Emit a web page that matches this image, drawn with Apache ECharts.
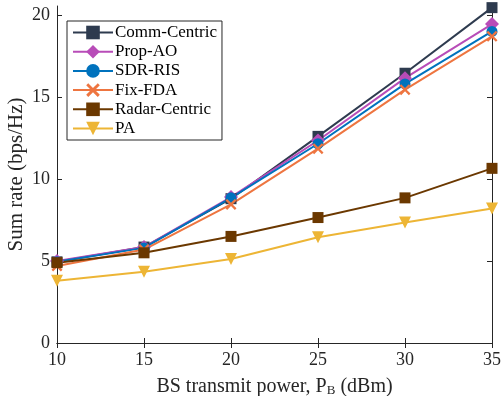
<!DOCTYPE html>
<html>
<head>
<meta charset="utf-8">
<script src="https://cdn.jsdelivr.net/npm/echarts@6/dist/echarts.min.js"></script>
<style>
  html, body { margin: 0; padding: 0; background: #fff; }
  #chart { width: 504px; height: 396px; }
</style>
</head>
<body>
<div id="chart"></div>
<script>
// x axis: BS transmit power (dBm)
var power = [10, 15, 20, 25, 30, 35];
// sum rate (bps/Hz) per scheme
var commCentric  = [4.95, 5.85, 8.8, 12.6, 16.45, 20.45];
var propAO       = [5.0, 5.85, 8.9, 12.35, 16.15, 19.45];
var sdrRIS       = [4.95, 5.8, 8.85, 12.15, 15.8, 19.0];
var fixFDA       = [4.7, 5.7, 8.45, 11.85, 15.45, 18.7];
var radarCentric = [4.9, 5.5, 6.5, 7.65, 8.85, 10.65];
var pa           = [3.8, 4.35, 5.12, 6.45, 7.35, 8.2];
var yTicks = [0, 5, 10, 15, 20];

var font = 'Liberation Serif';
var axisColor = '#262626';
var crossPath = 'path://M0,1.5 L1.5,0 L5,3.5 L8.5,0 L10,1.5 L6.5,5 L10,8.5 L8.5,10 L5,6.5 L1.5,10 L0,8.5 L3.5,5 Z';

function mkSeries(name, data, color, symbol, size) {
  return {
    name: name,
    type: 'line',
    data: data.map(function (v, i) { return [power[i], v]; }),
    symbol: symbol,
    symbolSize: size,
    showAllSymbol: true,
    lineStyle: { color: color, width: 2 },
    itemStyle: { color: color },
    emphasis: { disabled: true },
    animation: false
  };
}

var myChart = echarts.init(document.getElementById('chart'));
var option = {
  backgroundColor: '#fff',
  animation: false,
  grid: { left: 57, right: 12, top: 6, bottom: 53, outerBoundsMode: 'none', containLabel: false },
  legend: {
    orient: 'vertical',
    left: 67,
    top: 21,
    padding: [3, 5, 3, 5],
    itemWidth: 40,
    itemHeight: 17,
    itemGap: 2.2,
    borderColor: '#262626',
    borderWidth: 1,
    borderRadius: 0,
    backgroundColor: '#fff',
    textStyle: { fontFamily: font, fontSize: 17, lineHeight: 17, color: '#000', padding: [0, 0, 0, -3] },
    data: ['Comm-Centric', 'Prop-AO', 'SDR-RIS', 'Fix-FDA', 'Radar-Centric', 'PA']
  },
  xAxis: [{
    type: 'value',
    min: 10, max: 35, interval: 5,
    name: 'BS transmit power, P{sub|B} (dBm)',
    nameLocation: 'middle',
    nameGap: 34,
    nameMoveOverlap: false,
    nameTextStyle: {
      fontFamily: font, fontSize: 20, color: '#262626',
      rich: { sub: { fontFamily: font, fontSize: 13, color: '#262626', verticalAlign: 'bottom', padding: [7, 0, 0, 0] } }
    },
    axisLine: { lineStyle: { color: axisColor, width: 1 } },
    axisTick: { inside: true, length: 5, lineStyle: { color: axisColor } },
    axisLabel: { fontFamily: font, fontSize: 18, color: '#262626', margin: 8 },
    splitLine: { show: false }
  }, {
    type: 'value', position: 'top',
    min: 10, max: 35, interval: 5,
    axisLine: { show: true, lineStyle: { color: axisColor, width: 1 } },
    axisTick: { inside: true, length: 5, lineStyle: { color: axisColor } },
    axisLabel: { show: false },
    splitLine: { show: false }
  }],
  yAxis: [{
    type: 'value',
    min: 0, max: 20.55, interval: 5,
    name: 'Sum rate (bps/Hz)',
    nameLocation: 'middle',
    nameGap: 30,
    nameMoveOverlap: false,
    nameTextStyle: { fontFamily: font, fontSize: 21, color: '#262626' },
    axisLine: { show: true, lineStyle: { color: axisColor, width: 1 } },
    axisTick: { inside: true, length: 5, lineStyle: { color: axisColor } },
    axisLabel: {
      fontFamily: font, fontSize: 18, color: '#262626', margin: 7,
      showMaxLabel: false,
      formatter: function (v) { return yTicks.indexOf(v) >= 0 ? String(v) : ''; }
    },
    splitLine: { show: false }
  }, {
    type: 'value', position: 'right',
    min: 0, max: 20.55, interval: 5,
    axisLine: { show: true, lineStyle: { color: axisColor, width: 1 } },
    axisTick: { inside: true, length: 5, lineStyle: { color: axisColor } },
    axisLabel: { show: false },
    splitLine: { show: false }
  }],
  series: [
    mkSeries('Comm-Centric', commCentric, '#2E3B4F', 'rect', 11),
    mkSeries('Prop-AO', propAO, '#B84CB8', 'diamond', 14),
    mkSeries('SDR-RIS', sdrRIS, '#0072BD', 'circle', 11),
    mkSeries('Fix-FDA', fixFDA, '#EE7540', crossPath, 11),
    mkSeries('Radar-Centric', radarCentric, '#6B3800', 'rect', 11),
    mkSeries('PA', pa, '#EDB535', 'triangle', 12)
  ]
};
// PA markers point downwards
option.series[5].symbolRotate = 180;
myChart.setOption(option);
</script>
</body>
</html>
